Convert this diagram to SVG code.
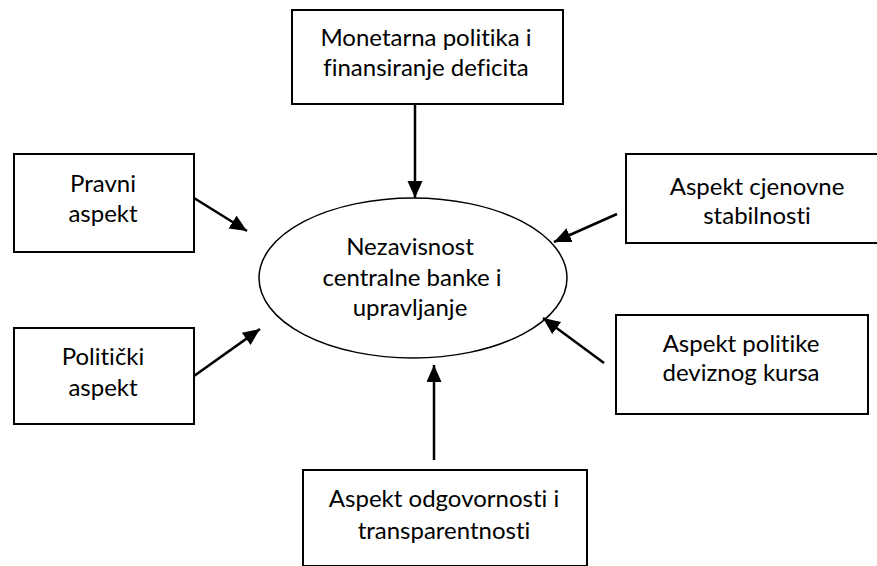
<svg xmlns="http://www.w3.org/2000/svg" width="877" height="566" viewBox="0 0 877 566">
<style>
.box{fill:#fff;stroke:#000;stroke-width:2}
.t{font-family:Lato,"Liberation Sans",sans-serif;font-size:24px;fill:#000;text-anchor:middle;font-variant-ligatures:none}
.c{stroke:#000;stroke-width:2.5;fill:none;marker-end:url(#ah)}
</style>
<defs>
<marker id="ah" markerUnits="userSpaceOnUse" markerWidth="18" markerHeight="16" refX="17" refY="7.5" orient="auto">
<path d="M0,0 L17,7.5 L0,15 Z" fill="#000"/>
</marker>
</defs>
<rect width="877" height="566" fill="#fff"/>
<g id="center">
<ellipse cx="413" cy="278" rx="154" ry="80" fill="#fff" stroke="#000" stroke-width="1.5"/>
<text class="t" x="410" y="255">Nezavisnost</text>
<text class="t" x="412" y="286">centralne banke i</text>
<text class="t" x="410" y="316">upravljanje</text>
</g>
<g id="monetarna">
<rect class="box" x="292" y="10" width="271" height="94"/>
<text class="t" x="426" y="46">Monetarna politika i</text>
<text class="t" x="426" y="76">finansiranje deficita</text>
</g>
<g id="pravni">
<rect class="box" x="14" y="154" width="180" height="98"/>
<text class="t" x="103" y="192">Pravni</text>
<text class="t" x="103" y="222">aspekt</text>
</g>
<g id="politicki">
<rect class="box" x="14" y="328" width="180" height="96"/>
<text class="t" x="103" y="365">Politički</text>
<text class="t" x="103" y="396">aspekt</text>
</g>
<g id="cjenovne">
<rect class="box" x="626" y="154" width="252" height="89"/>
<text class="t" x="757" y="195">Aspekt cjenovne</text>
<text class="t" x="757" y="224">stabilnosti</text>
</g>
<g id="devizni">
<rect class="box" x="616" y="315" width="252" height="99"/>
<text class="t" x="741" y="352">Aspekt politike</text>
<text class="t" x="741" y="381">deviznog kursa</text>
</g>
<g id="odgovornost">
<rect class="box" x="303" y="470" width="284" height="96"/>
<text class="t" x="444" y="507">Aspekt odgovornosti i</text>
<text class="t" x="444" y="539">transparentnosti</text>
</g>
<g id="connectors">
<line class="c" x1="415" y1="104" x2="415" y2="198"/>
<line class="c" x1="194" y1="198" x2="247" y2="231"/>
<line class="c" x1="194" y1="376" x2="260" y2="329"/>
<line class="c" x1="617" y1="214" x2="554" y2="242"/>
<line class="c" x1="604" y1="363" x2="543" y2="318"/>
<line class="c" x1="434" y1="460" x2="434" y2="365"/>
</g>
</svg>
